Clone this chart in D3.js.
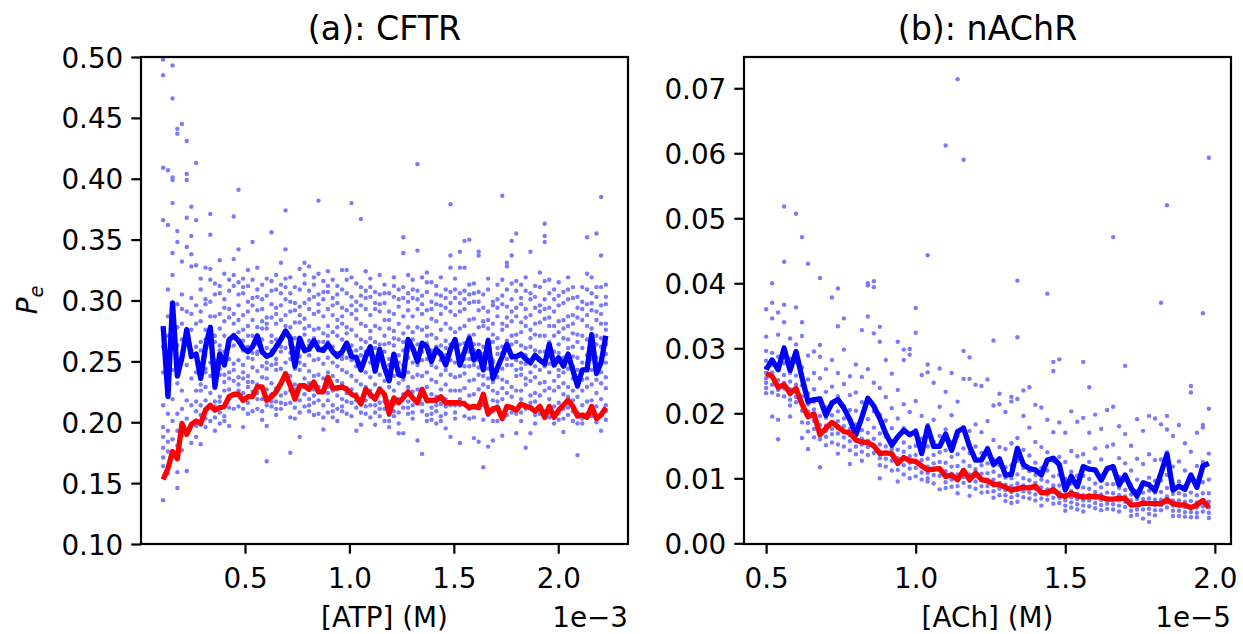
<!DOCTYPE html>
<html>
<head>
<meta charset="utf-8">
<script src="https://cdn.jsdelivr.net/npm/d3@7"></script>
<style>
  body { margin: 0; background: #fff; }
  text { font-family: "DejaVu Sans", sans-serif; fill: #000; }
</style>
</head>
<body>
<svg id="chart" width="1243" height="634"></svg>
<script>
// ---- (a) CFTR : [ATP] in units of 1e-3 M ----
const atpConc = [0.108,0.131,0.153,0.176,0.198,0.221,0.243,0.266,0.288,0.311,0.334,0.356,0.379,0.401,0.424,0.446,0.469,0.491,0.514,0.536,
  0.559,0.582,0.604,0.627,0.649,0.672,0.694,0.717,0.739,0.762,0.785,0.807,0.830,0.852,0.875,0.897,0.920,0.942,0.965,0.987,
  1.010,1.033,1.055,1.078,1.100,1.123,1.145,1.168,1.190,1.213,1.236,1.258,1.281,1.303,1.326,1.348,1.371,1.393,1.416,1.438,
  1.461,1.484,1.506,1.529,1.551,1.574,1.596,1.619,1.641,1.664,1.687,1.709,1.732,1.754,1.777,1.799,1.822,1.844,1.867,1.889,
  1.912,1.935,1.957,1.980,2.002,2.025,2.047,2.070,2.092,2.115,2.138,2.160,2.183,2.205,2.228];

const cftrMean = [0.279,0.221,0.298,0.238,0.253,0.276,0.254,0.256,0.236,0.262,0.278,0.229,0.256,0.247,0.268,0.271,0.267,0.261,0.258,0.262,
  0.271,0.258,0.254,0.256,0.262,0.268,0.275,0.269,0.246,0.269,0.259,0.260,0.267,0.260,0.259,0.264,0.258,0.254,0.258,0.265,
  0.254,0.253,0.243,0.254,0.262,0.242,0.260,0.245,0.234,0.256,0.239,0.238,0.268,0.261,0.250,0.265,0.262,0.250,0.260,0.256,
  0.247,0.260,0.268,0.247,0.258,0.269,0.251,0.258,0.243,0.267,0.236,0.245,0.254,0.264,0.254,0.254,0.256,0.252,0.249,0.255,
  0.251,0.248,0.264,0.247,0.253,0.246,0.256,0.243,0.230,0.243,0.243,0.272,0.240,0.249,0.271];

const cftrFit = [0.153,0.162,0.176,0.170,0.199,0.190,0.198,0.201,0.199,0.210,0.214,0.210,0.212,0.213,0.221,0.223,0.223,0.218,0.221,0.221,
  0.229,0.229,0.218,0.221,0.225,0.232,0.240,0.230,0.219,0.230,0.230,0.227,0.233,0.225,0.225,0.237,0.228,0.228,0.229,0.227,
  0.223,0.221,0.215,0.227,0.223,0.219,0.227,0.223,0.207,0.220,0.216,0.220,0.225,0.220,0.216,0.227,0.218,0.218,0.218,0.221,
  0.216,0.216,0.216,0.216,0.215,0.212,0.213,0.212,0.223,0.207,0.211,0.212,0.203,0.213,0.212,0.210,0.215,0.213,0.212,0.209,
  0.213,0.204,0.213,0.204,0.210,0.214,0.218,0.213,0.205,0.206,0.204,0.213,0.203,0.206,0.212];

// single-channel estimates, one list per [ATP] value
const cftrSamples = [
  [.498,.485,.409,.366,.262,.241,.214,.196,.188,.179,.171,.164,.136],
  [.407,.362,.309,.287,.271,.258,.226,.207,.193,.184,.176,.158],
  [.493,.466,.401,.399,.380,.339,.321,.268,.243,.219,.201,.186,.172],
  [.441,.437,.357,.348,.297,.278,.263,.232,.207,.193,.181,.159,.146],
  [.445,.332,.305,.293,.281,.268,.251,.226,.211,.198,.189,.177],
  [.431,.404,.399,.368,.344,.291,.272,.247,.218,.203,.192,.160],
  [.377,.353,.338,.328,.302,.289,.276,.259,.236,.214,.199,.183],
  [.413,.366,.329,.296,.281,.262,.241,.226,.217,.209,.197,.188],
  [.318,.309,.291,.283,.266,.259,.247,.231,.226,.214,.206,.198,.182],
  [.327,.301,.297,.276,.268,.262,.244,.241,.229,.218,.211,.203,.196],
  [.371,.354,.326,.317,.299,.287,.268,.262,.249,.238,.224,.212,.201],
  [.314,.305,.287,.271,.266,.251,.246,.235,.228,.217,.213,.204,.193],
  [.333,.312,.306,.289,.277,.263,.259,.244,.239,.221,.217,.208,.199],
  [.322,.301,.294,.283,.271,.258,.254,.239,.233,.226,.213,.205,.201],
  [.317,.308,.293,.286,.266,.262,.252,.241,.236,.227,.219,.212,.197],
  [.369,.334,.321,.312,.289,.281,.272,.263,.248,.243,.234,.222,.211],
  [.391,.342,.315,.305,.296,.284,.274,.266,.251,.237,.231,.226,.213],
  [.318,.311,.306,.288,.276,.267,.259,.247,.241,.236,.224,.211,.196],
  [.325,.312,.299,.291,.279,.271,.262,.253,.238,.233,.229,.216,.207],
  [.348,.317,.302,.296,.284,.271,.257,.252,.245,.233,.225,.221,.209],
  [.327,.309,.303,.292,.278,.264,.258,.256,.242,.231,.224,.219,.211],
  [.313,.301,.293,.283,.277,.268,.257,.246,.237,.229,.219,.209,.202],
  [.318,.304,.286,.281,.277,.261,.249,.244,.236,.227,.214,.197,.168],
  [.356,.316,.308,.297,.286,.271,.266,.259,.247,.232,.223,.217,.213],
  [.321,.309,.294,.289,.281,.268,.252,.248,.243,.228,.217,.211,.206],
  [.331,.313,.306,.296,.284,.269,.262,.258,.244,.231,.222,.216,.211],
  [.374,.342,.318,.311,.301,.288,.279,.273,.261,.249,.236,.224,.215],
  [.319,.306,.299,.291,.278,.264,.257,.252,.238,.226,.216,.204,.175],
  [.311,.298,.292,.282,.269,.261,.256,.244,.231,.227,.221,.212,.203],
  [.326,.309,.295,.288,.282,.268,.254,.249,.243,.229,.218,.208,.188],
  [.331,.321,.314,.298,.285,.277,.272,.258,.247,.236,.229,.223,.213],
  [.328,.308,.301,.293,.279,.267,.263,.255,.242,.232,.219,.214,.209],
  [.319,.313,.303,.289,.276,.269,.263,.251,.238,.227,.222,.216,.206],
  [.382,.322,.305,.297,.291,.277,.266,.259,.252,.239,.229,.218,.207],
  [.316,.307,.301,.287,.273,.266,.261,.248,.236,.225,.214,.204,.194],
  [.324,.312,.307,.293,.279,.271,.266,.253,.241,.229,.224,.218,.208],
  [.317,.302,.296,.288,.274,.262,.258,.249,.238,.226,.214,.209,.204],
  [.312,.305,.298,.284,.278,.271,.257,.246,.234,.229,.222,.211,.201],
  [.325,.309,.294,.287,.281,.268,.255,.252,.243,.232,.219,.213,.209],
  [.325,.317,.306,.292,.278,.273,.265,.253,.241,.228,.224,.217,.207],
  [.380,.319,.303,.296,.289,.276,.263,.258,.251,.238,.227,.216,.205],
  [.314,.299,.292,.285,.271,.259,.254,.246,.234,.223,.218,.212,.193],
  [.367,.311,.304,.296,.281,.268,.261,.255,.243,.231,.219,.208,.198],
  [.324,.308,.302,.293,.279,.266,.258,.254,.241,.229,.218,.213,.207],
  [.318,.311,.303,.288,.275,.269,.262,.249,.237,.226,.221,.214,.204],
  [.307,.298,.293,.279,.266,.261,.254,.242,.231,.219,.214,.208,.198],
  [.321,.305,.297,.291,.277,.264,.256,.251,.239,.228,.216,.211,.205],
  [.313,.306,.298,.284,.271,.264,.258,.246,.234,.222,.217,.211,.201],
  [.306,.291,.284,.277,.265,.252,.247,.241,.229,.217,.206,.201,.196],
  [.319,.312,.303,.289,.275,.269,.263,.251,.238,.226,.215,.209,.205],
  [.309,.301,.295,.281,.268,.255,.249,.243,.232,.219,.208,.199,.191],
  [.352,.339,.311,.302,.287,.273,.266,.259,.247,.235,.223,.212,.191],
  [.321,.306,.299,.292,.278,.265,.259,.253,.241,.229,.217,.212,.207],
  [.317,.309,.302,.287,.274,.268,.261,.249,.237,.225,.214,.208,.203],
  [.412,.341,.308,.301,.293,.278,.264,.252,.247,.239,.227,.216,.185],
  [.319,.304,.297,.289,.276,.263,.258,.251,.238,.227,.215,.209,.174],
  [.323,.315,.307,.292,.278,.271,.265,.252,.241,.229,.217,.206,.201],
  [.315,.299,.293,.285,.272,.259,.254,.247,.235,.223,.212,.207,.202],
  [.312,.305,.297,.283,.269,.262,.257,.245,.233,.221,.214,.209,.199],
  [.319,.304,.296,.289,.276,.263,.257,.251,.239,.227,.215,.205,.201],
  [.309,.302,.294,.281,.267,.261,.255,.243,.231,.219,.213,.207,.195],
  [.379,.337,.327,.307,.298,.291,.277,.264,.251,.239,.226,.214,.188],
  [.318,.309,.302,.288,.274,.267,.262,.249,.237,.226,.214,.208,.203],
  [.340,.327,.306,.298,.291,.277,.264,.251,.238,.226,.219,.214,.183],
  [.349,.327,.308,.301,.293,.279,.265,.252,.246,.240,.228,.216,.205],
  [.350,.313,.305,.298,.284,.271,.258,.252,.246,.234,.222,.211,.203],
  [.314,.306,.299,.285,.272,.264,.259,.247,.235,.223,.212,.204,.187],
  [.340,.337,.307,.299,.292,.278,.264,.251,.245,.239,.227,.215,.184],
  [.305,.294,.283,.279,.262,.256,.247,.238,.231,.219,.214,.202,.163],
  [.318,.309,.291,.284,.277,.268,.253,.244,.236,.229,.211,.206,.180],
  [.299,.296,.281,.272,.266,.251,.249,.233,.226,.218,.209,.201,.185],
  [.313,.301,.294,.287,.269,.261,.256,.242,.237,.224,.217,.213,.201],
  [.386,.317,.304,.297,.281,.276,.262,.257,.244,.235,.228,.219,.189],
  [.331,.328,.309,.295,.286,.279,.267,.252,.247,.233,.224,.212,.206],
  [.349,.337,.314,.301,.291,.283,.271,.264,.253,.247,.229,.221,.208],
  [.355,.316,.308,.294,.287,.272,.266,.251,.243,.238,.226,.207,.191],
  [.313,.302,.297,.282,.274,.263,.249,.244,.239,.226,.219,.208,.201],
  [.319,.308,.293,.286,.279,.261,.255,.248,.236,.231,.214,.211,.179],
  [.340,.306,.301,.288,.276,.269,.262,.248,.241,.234,.222,.216,.191],
  [.312,.303,.294,.281,.272,.259,.253,.246,.237,.224,.217,.206,.199],
  [.323,.311,.296,.291,.282,.271,.258,.251,.243,.232,.222,.213,.207],
  [.363,.353,.348,.316,.301,.293,.285,.271,.258,.246,.233,.226,.209],
  [.317,.306,.294,.286,.279,.266,.254,.248,.241,.228,.219,.212,.204],
  [.309,.301,.291,.279,.271,.258,.252,.247,.234,.226,.213,.206,.199],
  [.315,.304,.296,.283,.274,.264,.257,.243,.238,.229,.216,.208,.202],
  [.307,.298,.284,.277,.269,.253,.249,.241,.232,.223,.211,.203,.192],
  [.319,.309,.301,.287,.279,.268,.261,.252,.244,.229,.221,.212,.206],
  [.311,.302,.288,.281,.273,.262,.254,.246,.236,.226,.218,.209,.201],
  [.303,.294,.286,.272,.266,.253,.243,.236,.229,.221,.208,.199,.173],
  [.311,.299,.293,.284,.271,.261,.249,.242,.235,.226,.214,.203,.199],
  [.352,.322,.309,.297,.288,.279,.268,.255,.248,.236,.229,.217,.207],
  [.319,.306,.298,.292,.277,.267,.259,.252,.243,.231,.218,.212,.205],
  [.355,.311,.303,.291,.284,.271,.264,.253,.246,.235,.224,.213,.200],
  [.385,.337,.311,.296,.289,.281,.269,.262,.249,.241,.232,.219,.193],
  [.313,.303,.297,.281,.276,.264,.256,.249,.237,.228,.214,.209,.202]
];

// ---- (b) nAChR : [ACh] in units of 1e-5 M ----
const achConc = [0.50,0.52,0.54,0.56,0.58,0.60,0.62,0.64,0.66,0.68,0.70,0.72,0.74,0.76,0.78,0.80,0.82,0.84,0.86,0.88,
  0.90,0.92,0.94,0.96,0.98,1.00,1.02,1.04,1.06,1.08,1.10,1.12,1.14,1.16,1.18,1.20,1.22,1.24,1.26,1.28,
  1.30,1.32,1.34,1.36,1.38,1.40,1.42,1.44,1.46,1.48,1.50,1.52,1.54,1.56,1.58,1.60,1.62,1.64,1.66,1.68,
  1.70,1.72,1.74,1.76,1.78,1.80,1.82,1.84,1.86,1.88,1.90,1.92,1.94,1.96,1.98];

const nachrMean = [0.0267,0.0282,0.0267,0.0300,0.0266,0.0295,0.0255,0.0218,0.0221,0.0222,0.0197,0.0216,0.0221,0.0208,0.0190,0.0167,0.0194,0.0223,0.0211,0.0192,
  0.0169,0.0151,0.0164,0.0174,0.0167,0.0172,0.0138,0.0179,0.0149,0.0149,0.0168,0.0143,0.0172,0.0177,0.0149,0.0128,0.0128,0.0145,0.0121,0.0130,
  0.0105,0.0106,0.0146,0.0121,0.0115,0.0113,0.0105,0.0128,0.0131,0.0121,0.0082,0.0103,0.0087,0.0118,0.0114,0.0113,0.0097,0.0115,0.0118,0.0090,
  0.0105,0.0085,0.0073,0.0093,0.0090,0.0081,0.0108,0.0137,0.0082,0.0088,0.0083,0.0105,0.0086,0.0119,0.0123];

const nachrFit = [0.0261,0.0257,0.0240,0.0244,0.0231,0.0238,0.0214,0.0195,0.0199,0.0167,0.0177,0.0186,0.0179,0.0172,0.0170,0.0159,0.0156,0.0155,0.0150,0.0138,
  0.0139,0.0138,0.0123,0.0132,0.0127,0.0126,0.0119,0.0113,0.0114,0.0115,0.0103,0.0105,0.0098,0.0112,0.0098,0.0108,0.0098,0.0096,0.0091,0.0090,
  0.0086,0.0082,0.0084,0.0086,0.0085,0.0088,0.0078,0.0078,0.0083,0.0074,0.0072,0.0077,0.0073,0.0071,0.0072,0.0072,0.0071,0.0068,0.0068,0.0069,
  0.0069,0.0059,0.0059,0.0062,0.0061,0.0061,0.0061,0.0067,0.0061,0.0059,0.0059,0.0055,0.0059,0.0066,0.0055];

const nachrSamples = [
  [.0360,.0318,.0296,.0281,.0270,.0262,.0254,.0247,.0239,.0231],
  [.0400,.0370,.0346,.0293,.0275,.0263,.0256,.0244,.0232,.0195],
  [.0355,.0321,.0287,.0268,.0251,.0243,.0236,.0228,.0190,.0160],
  [.0518,.0433,.0367,.0340,.0302,.0277,.0259,.0247,.0238,.0226],
  [.0315,.0284,.0262,.0249,.0237,.0229,.0221,.0212,.0195],
  [.0507,.0363,.0306,.0279,.0258,.0244,.0233,.0225,.0217],
  [.0471,.0340,.0319,.0271,.0243,.0226,.0215,.0204,.0186,.0162],
  [.0430,.0289,.0252,.0231,.0214,.0203,.0194,.0185,.0172,.0145],
  [.0295,.0262,.0237,.0218,.0206,.0197,.0188,.0176,.0163],
  [.0408,.0305,.0287,.0254,.0223,.0196,.0182,.0171,.0160,.0117],
  [.0268,.0233,.0209,.0193,.0181,.0173,.0164,.0151],
  [.0378,.0282,.0241,.0214,.0197,.0185,.0176,.0168,.0155],
  [.0392,.0334,.0262,.0226,.0203,.0188,.0177,.0169,.0152,.0138],
  [.0346,.0298,.0245,.0211,.0192,.0180,.0171,.0163,.0149],
  [.0257,.0228,.0205,.0189,.0176,.0166,.0157,.0143,.0122],
  [.0275,.0232,.0204,.0183,.0168,.0158,.0149,.0137],
  [.0328,.0256,.0217,.0192,.0174,.0161,.0152,.0141,.0127],
  [.0400,.0397,.0349,.0268,.0223,.0191,.0170,.0158,.0148,.0136],
  [.0403,.0394,.0323,.0247,.0203,.0178,.0161,.0150,.0139],
  [.0333,.0310,.0239,.0198,.0169,.0152,.0141,.0131,.0120,.0100],
  [.0282,.0225,.0189,.0164,.0149,.0139,.0130,.0118],
  [.0261,.0208,.0177,.0158,.0145,.0136,.0127,.0112],
  [.0310,.0236,.0192,.0163,.0144,.0131,.0122,.0113,.0095],
  [.0298,.0282,.0214,.0177,.0155,.0141,.0130,.0120,.0106],
  [.0299,.0290,.0202,.0168,.0148,.0134,.0124,.0115,.0100],
  [.0362,.0324,.0219,.0174,.0150,.0136,.0125,.0116,.0103],
  [.0259,.0196,.0161,.0141,.0128,.0118,.0109,.0098],
  [.0443,.0275,.0263,.0182,.0149,.0130,.0118,.0108,.0100,.0095],
  [.0247,.0190,.0156,.0136,.0123,.0113,.0105,.0092],
  [.0269,.0210,.0165,.0140,.0125,.0114,.0104,.0083],
  [.0612,.0233,.0175,.0143,.0124,.0111,.0102,.0094,.0085],
  [.0262,.0197,.0156,.0133,.0118,.0107,.0098,.0087],
  [.0714,.0218,.0165,.0137,.0119,.0106,.0097,.0088,.0077],
  [.0590,.0296,.0253,.0179,.0146,.0126,.0113,.0102,.0093],
  [.0286,.0253,.0173,.0139,.0119,.0106,.0096,.0087,.0073],
  [.0244,.0183,.0149,.0128,.0114,.0104,.0095,.0084],
  [.0242,.0171,.0139,.0120,.0107,.0097,.0088,.0078],
  [.0252,.0188,.0147,.0123,.0108,.0097,.0088,.0079],
  [.0312,.0212,.0159,.0129,.0110,.0098,.0089,.0080,.0070],
  [.0230,.0214,.0148,.0120,.0104,.0093,.0084,.0074],
  [.0202,.0145,.0117,.0101,.0090,.0082,.0074,.0065],
  [.0225,.0218,.0154,.0120,.0100,.0088,.0079,.0071,.0062],
  [.0404,.0317,.0222,.0162,.0127,.0106,.0092,.0082,.0074,.0064],
  [.0235,.0196,.0144,.0116,.0100,.0089,.0080,.0071],
  [.0240,.0178,.0135,.0111,.0097,.0087,.0078,.0069],
  [.0213,.0156,.0124,.0105,.0093,.0084,.0075,.0066],
  [.0209,.0148,.0116,.0098,.0086,.0077,.0069,.0058],
  [.0384,.0190,.0140,.0112,.0095,.0083,.0075,.0067],
  [.0279,.0265,.0171,.0127,.0103,.0089,.0079,.0070,.0061],
  [.0283,.0186,.0133,.0105,.0089,.0078,.0070,.0062],
  [.0170,.0125,.0099,.0084,.0074,.0066,.0058,.0050],
  [.0203,.0142,.0110,.0092,.0080,.0071,.0063,.0055],
  [.0187,.0134,.0104,.0087,.0076,.0068,.0060,.0052],
  [.0279,.0193,.0137,.0104,.0086,.0074,.0066,.0058,.0049],
  [.0240,.0170,.0125,.0099,.0084,.0074,.0066,.0057],
  [.0198,.0146,.0112,.0092,.0079,.0070,.0062,.0054],
  [.0176,.0129,.0102,.0086,.0075,.0067,.0059,.0051],
  [.0205,.0149,.0113,.0091,.0078,.0069,.0061,.0053],
  [.0471,.0210,.0152,.0114,.0091,.0077,.0068,.0060,.0052],
  [.0180,.0131,.0102,.0085,.0074,.0066,.0058,.0049],
  [.0273,.0168,.0123,.0097,.0082,.0072,.0064,.0056],
  [.0150,.0112,.0089,.0075,.0066,.0058,.0050,.0042],
  [.0191,.0130,.0098,.0080,.0068,.0060,.0052,.0044],
  [.0173,.0122,.0094,.0078,.0068,.0060,.0052,.0038],
  [.0196,.0137,.0101,.0081,.0069,.0061,.0053,.0045,.0033],
  [.0192,.0128,.0096,.0078,.0067,.0059,.0051,.0043],
  [.0370,.0183,.0129,.0097,.0079,.0067,.0059,.0051],
  [.0520,.0196,.0175,.0140,.0105,.0085,.0072,.0063,.0055],
  [.0165,.0118,.0091,.0076,.0066,.0058,.0050,.0042],
  [.0182,.0126,.0095,.0077,.0066,.0058,.0050,.0042],
  [.0154,.0112,.0088,.0074,.0064,.0056,.0048,.0041],
  [.0242,.0232,.0141,.0099,.0078,.0065,.0056,.0048,.0040],
  [.0170,.0119,.0090,.0074,.0063,.0055,.0047,.0040],
  [.0354,.0182,.0178,.0125,.0094,.0077,.0066,.0057,.0049],
  [.0593,.0207,.0138,.0098,.0077,.0064,.0055,.0047,.0039]
];

const xTickValues = [0.5, 1.0, 1.5, 2.0];
const cftrYTicks = [0.10, 0.15, 0.20, 0.25, 0.30, 0.35, 0.40, 0.45, 0.50];
const nachrYTicks = [0.00, 0.01, 0.02, 0.03, 0.04, 0.05, 0.06, 0.07];

const svg = d3.select("#chart");
svg.append("rect").attr("width", 1243).attr("height", 634).attr("fill", "#fff");

const FONT = 27.8;      // 10pt at 200 dpi
const TITLE_FONT = 33.3;
const TICK_LEN = 9.7;
const SPINE_W = 2.2;

function drawPanel(p) {
    const size = 487;
    const g = svg.append("g").attr("transform", `translate(${p.left},${p.top})`);

    // matplotlib-style 5% margins
    const xExt = d3.extent(p.x);
    const xPad = (xExt[1] - xExt[0]) * 0.05;
    const x = d3.scaleLinear().domain([xExt[0] - xPad, xExt[1] + xPad]).range([0, size]);

    let yDom = p.yDomain;
    if (!yDom) {
        const e = d3.extent(p.samples.flat());
        const pad = (e[1] - e[0]) * 0.05;
        yDom = [e[0] - pad, e[1] + pad];
    }
    const y = d3.scaleLinear().domain(yDom).range([size, 0]);

    const clipId = "clip-" + p.id;
    g.append("clipPath").attr("id", clipId)
        .append("rect").attr("width", size).attr("height", size);

    const plot = g.append("g").attr("clip-path", `url(#${clipId})`);

    const points = p.samples.flatMap((col, i) => col.map(v => [p.x[i], v]));
    plot.selectAll("circle")
        .data(points)
        .join("circle")
        .attr("cx", d => x(d[0]))
        .attr("cy", d => y(d[1]))
        .attr("r", 2.2)
        .attr("fill", "#7a7aff");

    const line = d3.line()
        .x((d, i) => x(p.x[i]))
        .y(d => y(d));

    plot.append("path")
        .attr("d", line(p.mean))
        .attr("fill", "none")
        .attr("stroke", "#0000ff")
        .attr("stroke-width", 5.3)
        .attr("stroke-linejoin", "round");

    plot.append("path")
        .attr("d", line(p.fit))
        .attr("fill", "none")
        .attr("stroke", "#ff0000")
        .attr("stroke-width", 5.3)
        .attr("stroke-linejoin", "round");

    // Axes
    const xAxis = g.append("g")
        .attr("transform", `translate(0,${size})`)
        .call(d3.axisBottom(x).tickValues(xTickValues).tickFormat(d3.format(".1f"))
            .tickSize(TICK_LEN).tickPadding(13.5));
    const yAxis = g.append("g")
        .call(d3.axisLeft(y).tickValues(p.yTicks).tickFormat(d3.format(".2f"))
            .tickSize(TICK_LEN).tickPadding(8));

    [xAxis, yAxis].forEach(a => {
        a.select(".domain").remove();
        a.selectAll(".tick line").attr("stroke", "#000").attr("stroke-width", SPINE_W);
        a.selectAll(".tick text")
            .attr("font-size", FONT)
            .attr("font-family", "DejaVu Sans")
            .attr("fill", "#000");
    });
    xAxis.selectAll(".tick text").attr("dy", "0");
    xAxis.selectAll(".tick text").attr("y", TICK_LEN + 13.5 + 20.3);
    yAxis.selectAll(".tick text").attr("dy", "0.36em");

    // Frame
    g.append("rect")
        .attr("width", size).attr("height", size)
        .attr("fill", "none")
        .attr("stroke", "#000")
        .attr("stroke-width", SPINE_W);

    // Title
    g.append("text")
        .attr("x", size / 2).attr("y", -17)
        .attr("text-anchor", "middle")
        .attr("font-size", TITLE_FONT)
        .text(p.title);

    // X label and offset text
    g.append("text")
        .attr("x", size / 2).attr("y", 570)
        .attr("text-anchor", "middle")
        .attr("font-size", FONT)
        .text(p.xlabel);

    g.append("text")
        .attr("x", size).attr("y", 570)
        .attr("text-anchor", "end")
        .attr("font-size", FONT)
        .text(p.offset);
}

drawPanel({
    id: "a", left: 141, top: 57,
    x: atpConc, samples: cftrSamples, mean: cftrMean, fit: cftrFit,
    yDomain: [0.10, 0.50], yTicks: cftrYTicks,
    title: "(a): CFTR", xlabel: "[ATP] (M)", offset: "1e\u22123"
});

drawPanel({
    id: "b", left: 744, top: 57,
    x: achConc, samples: nachrSamples, mean: nachrMean, fit: nachrFit,
    yDomain: null, yTicks: nachrYTicks,
    title: "(b): nAChR", xlabel: "[ACh] (M)", offset: "1e\u22125"
});

// Y label for the left panel
const ylab = svg.append("text")
    .attr("transform", "translate(37,300) rotate(-90)")
    .attr("text-anchor", "middle")
    .attr("font-size", FONT);
ylab.append("tspan").attr("font-style", "italic").text("P");
ylab.append("tspan").attr("font-style", "italic").attr("font-size", FONT * 0.7).attr("dy", 6).text("e");
</script>
</body>
</html>
